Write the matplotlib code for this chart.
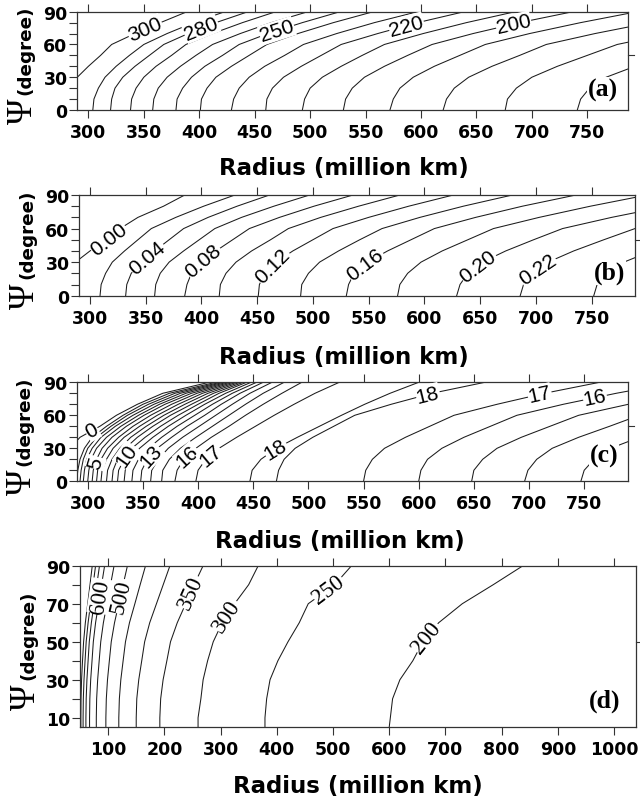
import numpy as np
import matplotlib
matplotlib.use("Agg")
import matplotlib.pyplot as plt
from matplotlib.transforms import blended_transform_factory

# ---------------- data ----------------
# each row: radius (million km) of one contour line at the psi values of the panel

# panel (a)
a_psi = [0, 10, 20, 30, 40, 50, 60, 70, 80, 90]
a_levels = [300, 290, 280, 270, 260, 250, 240, 230, 220, 210, 200, 190, 180, 170, 160]
a_r = [
    [275, 277, 282, 290, 300, 311, 321, 342, 365, 389],
    [304, 305, 309, 315, 325, 337, 350, 371, 395, 423],
    [320, 321, 324, 331, 342, 355, 368, 390, 415, 444],
    [338, 339, 343, 350, 361, 375, 388, 412, 439, 469],
    [358, 359, 363, 371, 383, 397, 412, 437, 465, 498],
    [379, 380, 385, 393, 405, 421, 436, 462, 493, 527],
    [401, 402, 407, 415, 429, 445, 461, 489, 521, 557],
    [429, 431, 436, 445, 459, 477, 494, 524, 558, 597],
    [460, 461, 466, 476, 492, 510, 528, 561, 597, 639],
    [493, 495, 500, 511, 528, 547, 567, 602, 641, 685],
    [530, 532, 538, 549, 567, 588, 610, 647, 689, 737],
    [572, 575, 581, 593, 612, 635, 658, 698, 744, 795],
    [620, 623, 630, 643, 664, 689, 713, 757, 807, None],
    [676, 678, 686, 700, 723, 750, 777, 824, None, None],
    [741, 744, 752, 767, 793, None, None, None, None, None],
]
a_lab = [(0, 74), (2, 74.7), (5, 72.6), (8, 77.2), (10, 78.7)]

# panel (b)
b_psi = [0, 10, 20, 30, 40, 50, 60, 70, 80, 90]
b_levels = [0.00, 0.02, 0.04, 0.06, 0.08, 0.10, 0.12, 0.14, 0.16, 0.18, 0.20, 0.22, 0.24]
b_r = [
    [None, None, 280, 287, 300, 316, 327, 343, 366, 385],
    [309, 310, 314, 320, 331, 343, 355, 377, 402, 430],
    [332, 333, 337, 346, 358, 371, 384, 406, 432, 461],
    [358, 359, 363, 371, 384, 398, 412, 436, 465, 497],
    [385, 387, 391, 400, 413, 428, 443, 470, 501, 536],
    [416, 417, 422, 431, 445, 462, 478, 507, 541, 578],
    [451, 452, 457, 467, 482, 500, 518, 550, 586, 626],
    [489, 490, 496, 506, 523, 542, 562, 596, 635, 679],
    [530, 532, 537, 549, 567, 588, 609, 646, 688, 736],
    [576, 578, 585, 597, 616, 639, 662, 703, 749, 800],
    [629, 632, 639, 652, 673, 698, 724, 768, 818, None],
    [686, 689, 696, 711, 734, 761, 789, 837, None, None],
    [752, 755, 763, 779, 804, None, None, None, None, None],
]
b_lab = [(0, 50.7), (2, 34.3), (4, 31.3), (6, 26.8), (8, 28.3), (10, 26.8), (11, 23.8)]

# panel (c)
c_psi = [0, 10, 20, 30, 40, 50, 60, 70, 80, 90]
c_levels = [0, 1, 2, 3, 4, 5, 6, 7, 8, 9, 10, 11, 12, 13, 14, 15, 16, 17, 18,
            18, 17, 16, 15, 14, 13]
c_r = [
    [None, None, 276, 284, 293, 311, 326, 345, 368, 410],
    [290, 291, 293, 297, 304, 317, 332, 350, 374, 416],
    [293, 294, 296, 300, 308, 321, 336, 355, 379, 420],
    [296, 297, 299, 304, 312, 325, 341, 360, 384, 423],
    [300, 301, 303, 308, 317, 330, 346, 365, 389, 426],
    [304, 305, 308, 313, 322, 335, 351, 370, 394, 429],
    [308, 309, 312, 318, 328, 341, 357, 376, 399, 432],
    [312, 313, 317, 323, 333, 347, 363, 382, 404, 435],
    [317, 318, 322, 329, 339, 353, 369, 388, 409, 438],
    [322, 323, 327, 334, 345, 359, 375, 394, 414, 441],
    [327, 328, 333, 340, 352, 366, 382, 400, 419, 444],
    [333, 334, 339, 347, 359, 373, 389, 406, 425, 448],
    [340, 341, 346, 355, 367, 381, 397, 413, 431, 453],
    [348, 349, 354, 363, 376, 390, 406, 421, 438, 459],
    [357, 358, 364, 373, 386, 401, 416, 431, 447, 467],
    [367, 368, 374, 384, 398, 413, 428, 443, 459, 478],
    [379, 381, 387, 398, 412, 428, 443, 459, 476, 494],
    [398, 400, 407, 419, 435, 452, 469, 487, 506, 528],
    [447, 449, 457, 471, 490, 510, 530, 551, 574, 600],
    [471, 473, 478, 488, 504, 523, 542, 575, 612, 660],
    [550, 552, 558, 569, 588, 610, 632, 671, 714, 764],
    [600, 602, 608, 621, 641, 665, 689, 731, 779, 833],
    [648, 650, 658, 671, 693, 719, 745, 790, None, None],
    [696, 699, 707, 721, 745, 773, 800, None, None, None],
    [747, 750, 759, 774, 800, None, None, None, None, None],
]
c_lab = [(0, 46), (5, 17), (10, 23.5), (13, 23.5), (16, 23), (17, 23.5), (18, 29.5),
         (19, 79), (20, 79), (21, 76)]

# panel (d)
d_psi = [5, 10, 20, 30, 40, 50, 60, 70, 80, 90]
d_levels = [750, 700, 650, 600, 550, 500, 450, 400, 350, 300, 250, 200]
d_r = [
    [51.5, 51.5, 51.8, 52.8, 54.5, 56.4, 59.5, 63.7, 67.8, 71.8],
    [55.5, 55.5, 55.9, 57.1, 59, 61, 64.4, 68.8, 73.3, 77.7],
    [60.5, 60.5, 61, 62.3, 64.4, 66.5, 70.2, 75, 79.9, 84.7],
    [67, 67, 67.5, 69, 71.4, 73.7, 77.7, 83.1, 88.4, 93.8],
    [79, 79, 79.6, 81.4, 84.1, 86.9, 91.6, 98, 104.3, 110.6],
    [96, 96, 96.8, 98.9, 102.2, 105.6, 111.4, 119, 126.7, 134.4],
    [119, 119, 120, 122.6, 126.7, 130.9, 138, 147.6, 157, 166.6],
    [150, 150, 151, 154.5, 159.8, 165, 174, 186, 198, 210],
    [192, 192, 193.5, 197.8, 204.5, 211, 223, 238, 253, 269],
    [260, 260, 265, 269, 277, 287, 303, 325, 350, 367],
    [379, 379, 382, 388, 402, 420, 440, 456, 503, 533],
    [600, 602, 606, 619, 642, 660, 688, 730, 785, 838],
]
d_lab = [(3, 74), (5, 74), (8, 76), (9, 63.7), (10, 77.7), (11, 52.3)]

# ---------------- drawing ----------------
LINE = "#1c1c1c"
fig = plt.figure(figsize=(6.4, 8.04), dpi=100)


def line_xy(row, psi):
    r = np.array(row, dtype=float)
    p = np.array(psi, dtype=float)
    ok = ~np.isnan(r)
    return r[ok], p[ok]


def label_on_line(ax, row, psi, p, text, fs, family):
    r, pp = line_xy(row, psi)
    x = np.interp(p, pp, r)
    x1, x2 = np.interp(p - 3, pp, r), np.interp(p + 3, pp, r)
    (X1, Y1), (X2, Y2) = ax.transData.transform([(x1, p - 3), (x2, p + 3)])
    ang = np.degrees(np.arctan2(Y2 - Y1, X2 - X1))
    ax.text(x, p, text, rotation=ang, rotation_mode="anchor", ha="center",
            va="center", fontsize=fs, family=family, zorder=3,
            bbox=dict(fc="white", ec="none", pad=0.3))


def panel(rect, xlim, ylim, xt, yt, ytm, psi, rows, levels, labs, fmt,
          letter, lpos, xlab_x, xlab_off, lab_fs=15, lab_family="Liberation Sans"):
    ax = fig.add_axes(rect)
    ax.set_xlim(*xlim)
    ax.set_ylim(*ylim)
    for row in rows:
        r, p = line_xy(row, psi)
        ax.plot(r, p, color=LINE, lw=0.75)
    for i, p in labs:
        label_on_line(ax, rows[i], psi, p, fmt % levels[i], lab_fs, lab_family)

    ax.set_xticks(xt)
    ax.set_yticks(yt)
    ax.set_yticks(ytm, minor=True)
    ax.tick_params(which="both", direction="out", length=5.5, width=0.8,
                   top=True, right=False, color="#333333")
    ax.tick_params(axis="x", pad=4.0, labelsize=12.5)
    ax.tick_params(axis="y", pad=1.5, labelsize=12.5)
    for t in ax.get_xticklabels() + ax.get_yticklabels():
        t.set_fontweight("bold")
        t.set_family("DejaVu Sans")
    for s in ax.spines.values():
        s.set_linewidth(0.9)
        s.set_color("#333333")
    # single outside tick on the right axis
    tr = blended_transform_factory(ax.transAxes, ax.transData)
    ax.plot([1, 1 + 6 / (rect[2] * 640)], [50, 50], transform=tr, color="#333333",
            lw=0.8, clip_on=False)

    ax.annotate("(degree)", xy=(0, 0.5), xycoords="axes fraction", xytext=(-52, -33),
                textcoords="offset pixels", rotation=90, ha="center", va="bottom",
                fontsize=13.2, fontweight="bold", family="DejaVu Sans")
    ax.annotate("\u03a8", xy=(0, 0.5), xycoords="axes fraction", xytext=(-54, -37),
                textcoords="offset pixels", rotation=90, ha="center", va="top",
                fontsize=25, family="Liberation Serif")
    ax.annotate("Radius (million km)", xy=(xlab_x, 0), xycoords="axes fraction",
                xytext=(0, -xlab_off), textcoords="offset pixels", ha="center",
                va="center", fontsize=16.5, fontweight="bold", family="DejaVu Sans")
    ax.annotate(letter, xy=(1, 0), xycoords="axes fraction", xytext=lpos,
                textcoords="offset pixels", ha="right", va="center", fontsize=18.5,
                fontweight="bold", family="Liberation Serif", zorder=4,
                bbox=dict(fc="white", ec="none", pad=0.5))
    return ax


H = 804.0
W = 640.0


def rect(l, r, t, b):
    return [l / W, 1 - b / H, (r - l) / W, (b - t) / H]


xt_ac = [300, 350, 400, 450, 500, 550, 600, 650, 700, 750]
panel(rect(77.3, 628.3, 12.7, 111), (290, 787), (0, 90), xt_ac, [0, 30, 60, 90],
      range(0, 91, 10), a_psi, a_r, a_levels, a_lab, "%d", "(a)", (-10, 21),
      0.483, 57)
panel(rect(79.3, 635, 196, 296.7), (290.4, 789), (0, 90), xt_ac, [0, 30, 60, 90],
      range(0, 91, 10), b_psi, b_r, b_levels, b_lab, "%.2f", "(b)", (-10, 23),
      0.476, 61)
panel(rect(76.7, 628.3, 383.3, 482.3), (290, 790), (0, 90), xt_ac, [0, 30, 60, 90],
      range(0, 91, 10), c_psi, c_r, c_levels, c_lab, "%d", "(c)", (-10, 26),
      0.477, 59)
panel(rect(80, 636, 566.7, 728.3), (50, 1039), (5, 90), range(100, 1001, 100),
      [10, 30, 50, 70, 90], range(10, 91, 10), d_psi, d_r, d_levels, d_lab, "%d",
      "(d)", (-16, 27), 0.5, 58, lab_fs=16.5, lab_family="Liberation Serif")

fig.savefig("out.png", dpi=100)
